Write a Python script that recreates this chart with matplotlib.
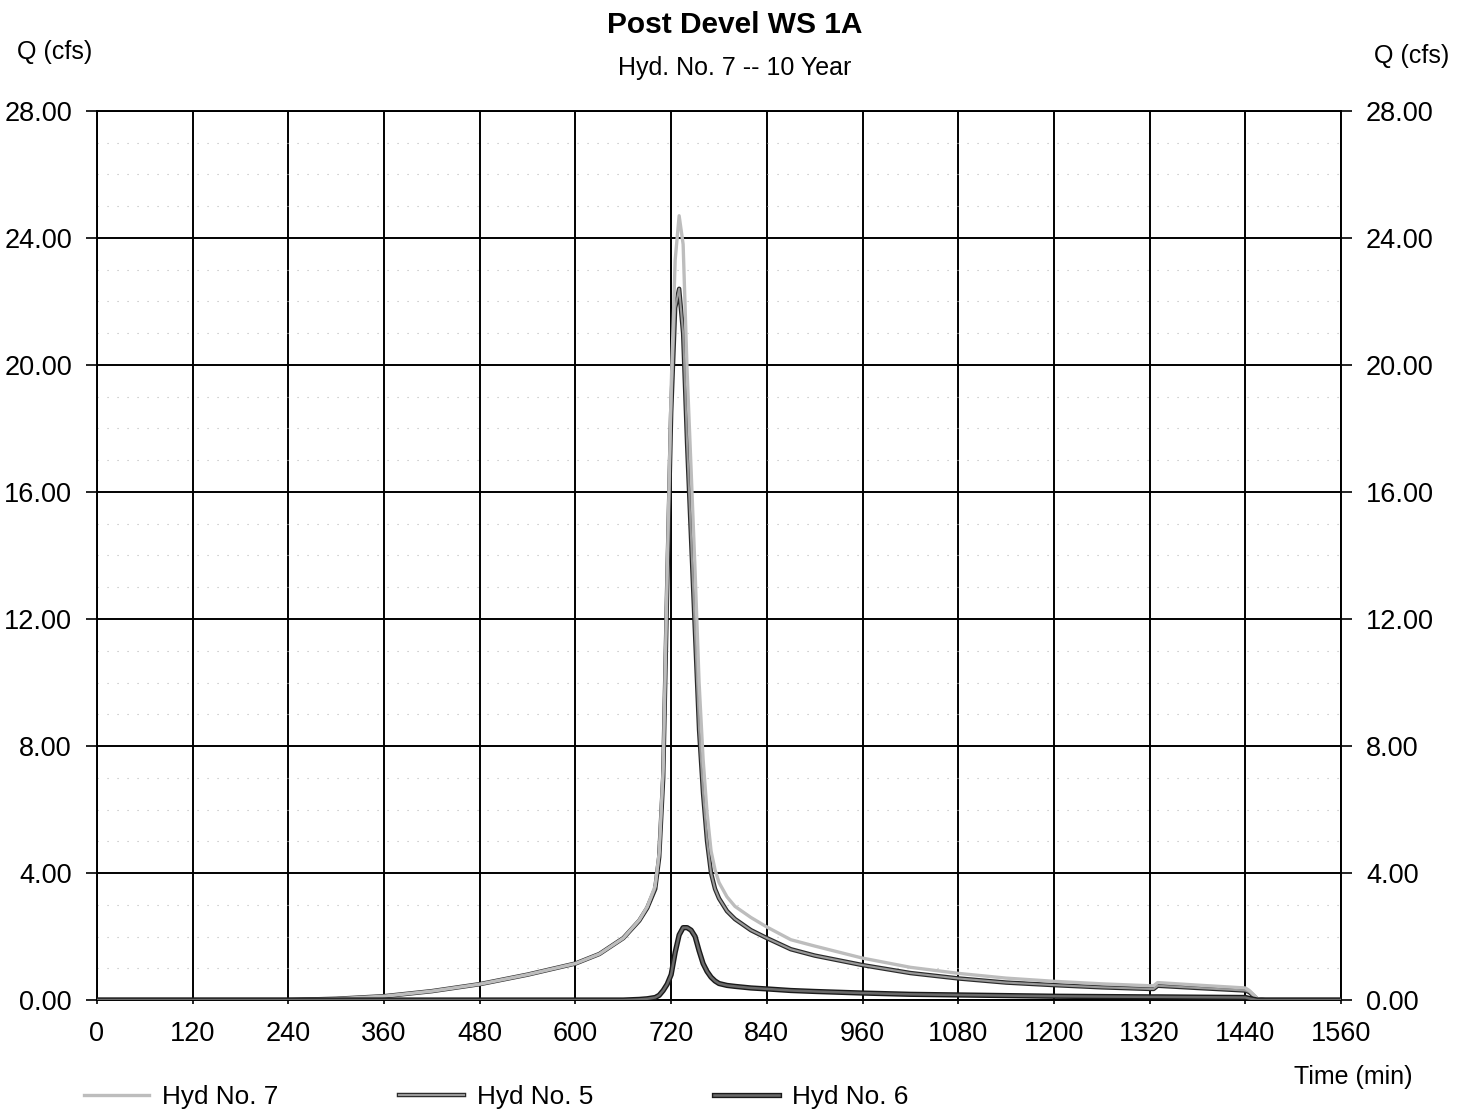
import numpy as np
import matplotlib
matplotlib.use("Agg")
import matplotlib.pyplot as plt
import matplotlib.patheffects as pe
from matplotlib.ticker import MultipleLocator, FormatStrFormatter

plt.rcParams['font.family'] = ['Liberation Sans', 'DejaVu Sans']

# time (min)
t = [0, 240, 300, 360, 420, 480, 540, 600, 630, 660, 680, 690, 700, 705, 710,
     715, 720, 725, 730, 735, 740, 745, 750, 755, 760, 765, 770, 775, 780, 790,
     800, 820, 840, 870, 900, 960, 1020, 1080, 1140, 1200, 1260, 1320, 1325,
     1330, 1380, 1440, 1445, 1455, 1465, 1560]

hyd5 = [0, 0, 0.04, 0.12, 0.28, 0.5, 0.8, 1.15, 1.45, 1.95, 2.5, 2.9, 3.5, 4.5, 7.0,
        13.0, 18.5, 21.8, 22.4, 21.0, 17.5, 14.5, 11.5, 8.5, 6.5, 5.0, 4.0, 3.5, 3.2, 2.8,
        2.55, 2.2, 1.95, 1.6, 1.4, 1.1, 0.85, 0.68, 0.55, 0.47, 0.4, 0.35, 0.35,
        0.45, 0.38, 0.3, 0.25, 0.02, 0, 0]

hyd6 = [0, 0, 0, 0, 0, 0, 0, 0, 0, 0, 0.02, 0.04, 0.08, 0.15, 0.3,
        0.5, 0.8, 1.5, 2.05, 2.28, 2.28, 2.2, 2.0, 1.55, 1.15, 0.9, 0.72, 0.6, 0.52, 0.46,
        0.43, 0.38, 0.35, 0.3, 0.27, 0.22, 0.18, 0.16, 0.14, 0.12, 0.11, 0.1, 0.1,
        0.1, 0.09, 0.08, 0.05, 0, 0, 0]

hyd7 = [0, 0, 0.04, 0.12, 0.28, 0.5, 0.8, 1.15, 1.45, 1.95, 2.52, 2.94, 3.6, 4.65, 7.3,
        13.5, 19.3, 23.3, 24.7, 23.8, 19.8, 16.7, 13.5, 10.0, 7.6, 5.9, 4.7, 4.1, 3.7, 3.25,
        2.95, 2.6, 2.3, 1.9, 1.7, 1.32, 1.03, 0.84, 0.69, 0.59, 0.51, 0.45, 0.45,
        0.55, 0.47, 0.38, 0.3, 0.05, 0, 0]

fig = plt.figure(figsize=(14.74, 11.13), dpi=100)
ax = fig.add_axes([0.0658, 0.1015, 0.8440, 0.7988])

ax.set_xlim(0, 1560)
ax.set_ylim(0, 28)
ax.xaxis.set_major_locator(MultipleLocator(120))
ax.yaxis.set_major_locator(MultipleLocator(4))
ax.yaxis.set_minor_locator(MultipleLocator(1))
ax.yaxis.set_major_formatter(FormatStrFormatter('%.2f'))

ax.grid(which='major', color='black', linewidth=1.4)
ax.grid(which='minor', axis='y', color='#b8b8b8', linewidth=0.8, linestyle=(0, (1, 8)))
ax.set_axisbelow(True)

for s in ax.spines.values():
    s.set_linewidth(1.4)

ax.tick_params(axis='y', which='major', left=True, right=True, labelleft=True, labelright=True,
               direction='out', length=8, width=1.2, pad=10, labelsize=19.5)
ax.tick_params(axis='y', which='minor', left=False, right=False)
ax.tick_params(axis='x', direction='out', length=3, width=1.2, pad=12, labelsize=19.5)

ax.plot(t, hyd5, color='#9a9a9a', linewidth=1.5, label='Hyd No. 5', zorder=3,
        path_effects=[pe.Stroke(linewidth=3.2, foreground='#2a2a2a'), pe.Normal()])
ax.plot(t, hyd7, color='#bdbdbd', linewidth=2.4, label='Hyd No. 7', zorder=4)
ax.plot(t, hyd6, color='#6a6a6a', linewidth=1.8, label='Hyd No. 6', zorder=5,
        path_effects=[pe.Stroke(linewidth=3.8, foreground='#1a1a1a'), pe.Normal()])

fig.text(0.4986, 0.9775, 'Post Devel WS 1A', ha='center', va='center',
         fontsize=21.5, fontweight='bold')
fig.text(0.4986, 0.939, 'Hyd. No. 7 -- 10 Year', ha='center', va='center', fontsize=18)
fig.text(0.0373, 0.953, 'Q (cfs)', ha='center', va='center', fontsize=18)
fig.text(0.958, 0.950, 'Q (cfs)', ha='center', va='center', fontsize=18)
fig.text(0.918, 0.0323, 'Time (min)', ha='center', va='center', fontsize=18)

handles, labels = ax.get_legend_handles_labels()
order = [1, 0, 2]
fig.legend([handles[i] for i in order], [labels[i] for i in order],
           loc='center left', bbox_to_anchor=(0.057, 0.0144), ncol=3, frameon=False,
           fontsize=18.8, handlelength=2.5, handletextpad=0.5, columnspacing=4.6,
           borderaxespad=0, borderpad=0)

fig.savefig('out.png', dpi=100)
